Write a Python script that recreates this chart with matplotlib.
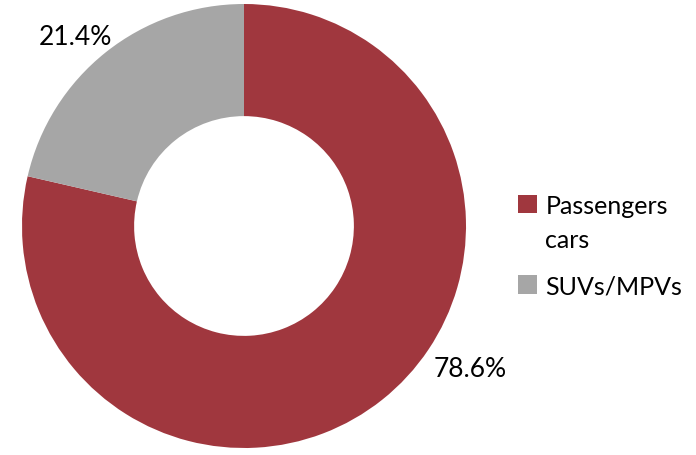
import matplotlib.pyplot as plt

categories = ["Passengers\ncars", "SUVs/MPVs"]
shares = [78.6, 21.4]
colors = ["#A0373E", "#A6A6A6"]

plt.rcParams['font.family'] = ['Lato', 'DejaVu Sans']

fig = plt.figure(figsize=(6.96, 4.55), dpi=100)
R = 222
cx, cy = 244, 455 - 226
ax = fig.add_axes([(cx - R) / 696, (cy - R) / 455, 2 * R / 696, 2 * R / 455])

wedges, _ = ax.pie(shares, colors=colors, startangle=90, counterclock=False,
                   radius=1.0, wedgeprops=dict(width=0.505, linewidth=0))
ax.set_xlim(-1, 1)
ax.set_ylim(-1, 1)
ax.set_aspect('equal')

# value labels
ax.text(-0.76, 0.848, f"{shares[1]}%", fontsize=19, ha='center', va='center')
ax.text(1.02, -0.645, f"{shares[0]}%", fontsize=19, ha='center', va='center')

leg = fig.legend(wedges, categories, loc='center left', bbox_to_anchor=(0.744, 0.458),
                 frameon=False, fontsize=18, handlelength=0.75, handleheight=0.75,
                 handletextpad=0.35, labelspacing=0.95, borderpad=0, borderaxespad=0)
for t in leg.get_texts():
    t.set_linespacing(1.58)
# keep each swatch level with the first line of its label
for column in leg._legend_handle_box.get_children():
    for item in column.get_children():
        item.align = "top"

fig.savefig("out.png", dpi=100)
